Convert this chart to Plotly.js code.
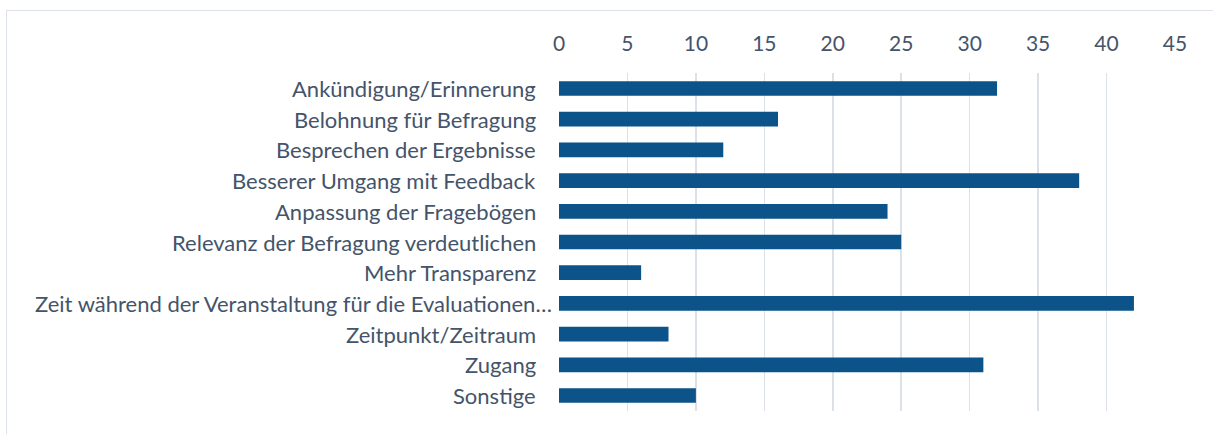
<!DOCTYPE html>
<html><head><meta charset="utf-8">
<script src="https://cdn.plot.ly/plotly-3.0.1.min.js"></script>
<style>
html,body{margin:0;padding:0;background:#fff;}
#frame{position:absolute;left:6px;top:10px;width:1300px;height:500px;border:1.5px solid #DDE2EA;box-sizing:border-box;pointer-events:none;z-index:5;}
#chart{width:1213px;height:434px;}
</style></head>
<body>
<div id="frame"></div>
<div id="chart"></div>
<script>
const categories = [
  "Ankündigung/Erinnerung",
  "Belohnung für Befragung",
  "Besprechen der Ergebnisse",
  "Besserer Umgang mit Feedback",
  "Anpassung der Fragebögen",
  "Relevanz der Befragung verdeutlichen",
  "Mehr Transparenz",
  "Zeit während der Veranstaltung für die Evaluationen…",
  "Zeitpunkt/Zeitraum",
  "Zugang",
  "Sonstige"
];
const values = [32, 16, 12, 38, 24, 25, 6, 42, 8, 31, 10];
const tickValues = [0, 5, 10, 15, 20, 25, 30, 35, 40, 45];

const textColor = '#44546A';
const labelFont = {family: 'Lato, sans-serif', size: 22, color: textColor};
const tickFont = {family: 'Lato, sans-serif', size: 21, color: textColor};

const annotations = categories.map(c => ({
  xref: 'paper', yref: 'y', x: 0, y: c,
  text: c, showarrow: false, xanchor: 'right', yanchor: 'middle',
  xshift: c.endsWith('…') ? -5 : -21,
  font: labelFont
}));

Plotly.newPlot('chart', [{
  type: 'bar',
  orientation: 'h',
  y: categories,
  x: values,
  marker: {color: '#0B5389'},
  hoverinfo: 'none'
}], {
  width: 1213, height: 434,
  margin: {l: 559, r: 38, t: 73, b: 23},
  paper_bgcolor: '#fff', plot_bgcolor: '#fff',
  bargap: 0.52,
  font: labelFont,
  xaxis: {
    side: 'top', range: [0, 45], tickvals: tickValues,
    showgrid: true, gridcolor: '#DCE1E8', gridwidth: 1.5,
    zeroline: false, showline: false, ticks: '',
    ticklabelstandoff: 17,
    tickfont: tickFont
  },
  yaxis: {
    autorange: 'reversed', ticks: '', showgrid: false, zeroline: false,
    showline: false, showticklabels: false
  },
  annotations: annotations,
  showlegend: false
}, {displayModeBar: false, staticPlot: true});
</script>
</body></html>
